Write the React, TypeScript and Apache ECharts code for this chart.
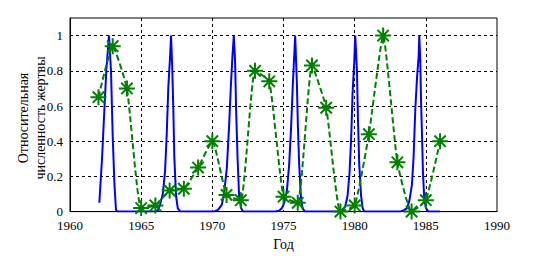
import React, { useEffect, useRef } from "react";
import * as echarts from "echarts";

const preyYears = [1962, 1963, 1964, 1965, 1966, 1967, 1968, 1969, 1970, 1971, 1972, 1973, 1974, 1975, 1976, 1977, 1978, 1979, 1980, 1981, 1982, 1983, 1984, 1985, 1986];
const preyValues = [0.65, 0.94, 0.70, 0.02, 0.035, 0.12, 0.13, 0.25, 0.40, 0.095, 0.065, 0.80, 0.74, 0.085, 0.05, 0.83, 0.59, 0.0, 0.035, 0.44, 1.0, 0.28, 0.0, 0.065, 0.40];

const modelT = [
  1962.06, 1962.25, 1962.41, 1962.55, 1962.74, 1962.88, 1963.0, 1963.12, 1963.23, 1963.35,
  1965.98, 1966.2, 1966.33, 1966.52, 1966.68, 1966.8, 1966.91, 1967.03, 1967.1, 1967.19, 1967.26, 1967.33, 1967.45, 1967.57, 1967.74,
  1970.1, 1970.4, 1970.67, 1970.85, 1971.02, 1971.18, 1971.3, 1971.41, 1971.51, 1971.6, 1971.67, 1971.77, 1971.88, 1972.02, 1972.15,
  1974.4, 1974.7, 1974.89, 1975.05, 1975.24, 1975.4, 1975.54, 1975.66, 1975.75, 1975.82, 1975.94, 1976.01, 1976.1, 1976.22, 1976.33, 1976.5,
  1978.85, 1979.15, 1979.34, 1979.5, 1979.64, 1979.76, 1979.85, 1979.97, 1980.04, 1980.16, 1980.23, 1980.32, 1980.45, 1980.56, 1980.67,
  1983.2, 1983.5, 1983.68, 1983.84, 1984.02, 1984.14, 1984.26, 1984.38, 1984.5, 1984.54, 1984.61, 1984.66, 1984.73, 1984.8, 1984.89, 1985.01, 1985.17, 1986.0,
];
const modelV = [
  0.05, 0.3, 0.57, 0.8, 1.0, 0.8, 0.43, 0.16, 0.01, 0.0,
  0.0, 0.01, 0.04, 0.1, 0.23, 0.45, 0.71, 0.88, 1.0, 0.8, 0.58, 0.31, 0.09, 0.02, 0.0,
  0.0, 0.01, 0.04, 0.12, 0.25, 0.49, 0.71, 0.88, 1.0, 0.85, 0.58, 0.31, 0.09, 0.02, 0.0,
  0.0, 0.005, 0.02, 0.05, 0.12, 0.27, 0.49, 0.73, 0.88, 1.0, 0.73, 0.49, 0.27, 0.09, 0.02, 0.0,
  0.0, 0.01, 0.03, 0.09, 0.22, 0.43, 0.67, 0.85, 1.0, 0.8, 0.53, 0.27, 0.09, 0.02, 0.0,
  0.0, 0.01, 0.02, 0.06, 0.15, 0.31, 0.58, 0.76, 0.89, 1.0, 0.86, 0.64, 0.44, 0.22, 0.07, 0.02, 0.0, 0.0,
];

const xTicks = [1960, 1965, 1970, 1975, 1980, 1985, 1990];
const yTitleLines = ["Относительная", "численность жертвы"];
const xTitle = "Год";

const FONT = "Liberation Serif";

export default function App() {
  const ref = useRef<HTMLDivElement>(null);
  useEffect(() => {
    const chart = echarts.init(ref.current!, null, { renderer: "svg" });
    const starPath = "path://M0,-8L0,8M-8,0L8,0M-5.7,-5.7L5.7,5.7M-5.7,5.7L5.7,-5.7";
    chart.setOption({
      animation: false,
      backgroundColor: "#ffffff",
      textStyle: { fontFamily: FONT },
      grid: { left: 70, right: 52, top: 18, bottom: 37, show: true, borderColor: "#000", borderWidth: 1, backgroundColor: "transparent" },
      xAxis: {
        type: "value",
        min: xTicks[0],
        max: xTicks[xTicks.length - 1],
        interval: 5,
        name: xTitle,
        nameLocation: "middle",
        nameGap: 24,
        nameTextStyle: { fontFamily: FONT, fontSize: 14, color: "#000" },
        axisLine: { lineStyle: { color: "#000", width: 1 } },
        axisTick: { show: false },
        axisLabel: { fontFamily: FONT, fontSize: 13, color: "#000", margin: 8, lineHeight: 12, formatter: (v: number) => String(v) },
        splitLine: { show: true, showMinLine: false, showMaxLine: false, lineStyle: { color: "#000", type: [3, 3], width: 1 } },
      },
      yAxis: {
        type: "value",
        min: 0,
        max: 1.1,
        interval: 0.2,
        axisLine: { show: true, lineStyle: { color: "#000", width: 1 } },
        axisTick: { show: false },
        axisLabel: {
          fontFamily: FONT,
          fontSize: 13,
          color: "#000",
          margin: 7,
          lineHeight: 10,
          formatter: (v: number) => (v > 1.001 ? "" : String(Math.round(v * 10) / 10)),
        },
        splitLine: { show: true, showMinLine: false, showMaxLine: false, lineStyle: { color: "#000", type: [3, 3], width: 1 } },
      },
      graphic: yTitleLines.map((t, i) => ({
        type: "text",
        x: 23 + i * 17,
        y: 118,
        rotation: Math.PI / 2,
        style: { text: t, fontFamily: FONT, fontSize: 14, fill: "#000", align: "center", verticalAlign: "middle" },
      })),
      series: [
        {
          type: "line",
          data: modelT.map((t, i) => [t, modelV[i]]),
          showSymbol: false,
          lineStyle: { color: "#0000ff", width: 2 },
          itemStyle: { color: "#0000ff" },
          z: 2,
        },
        {
          type: "line",
          data: preyYears.map((t, i) => [t, preyValues[i]]),
          smooth: 0.15,
          symbol: starPath,
          symbolSize: 16,
          showAllSymbol: true,
          lineStyle: { color: "#008000", width: 2, type: [6, 3] },
          itemStyle: { color: "#008000", borderColor: "#008000", borderWidth: 2 },
          z: 3,
        },
      ],
    });
    return () => chart.dispose();
  }, []);
  return <div ref={ref} style={{ position: "fixed", left: 0, top: 0, width: 549, height: 256, background: "#fff" }} />;
}
